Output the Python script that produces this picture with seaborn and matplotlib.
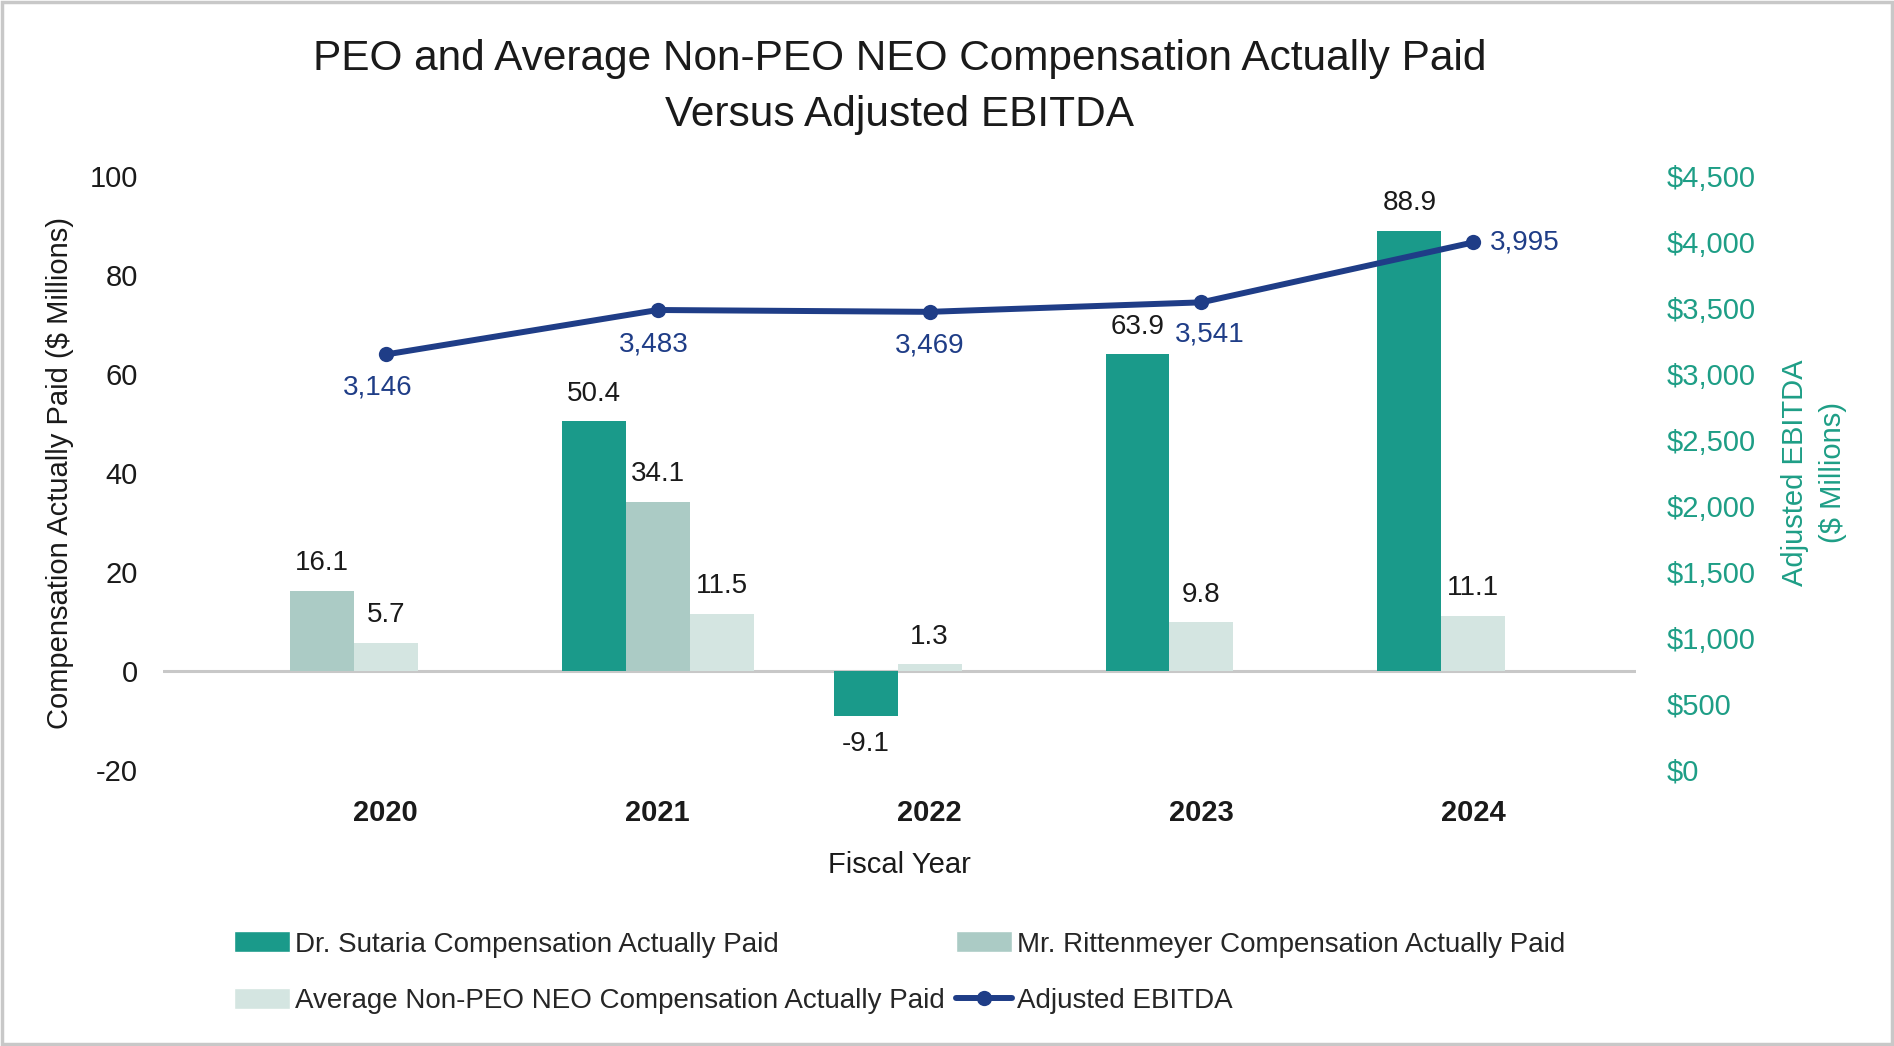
import numpy as np
import pandas as pd
import matplotlib
matplotlib.use("Agg")
import matplotlib.pyplot as plt
import seaborn as sns
from matplotlib.patches import Patch, Rectangle
from matplotlib.lines import Line2D
from matplotlib.ticker import FuncFormatter

# ---- data ----
years = ["2020", "2021", "2022", "2023", "2024"]
sutaria = [np.nan, 50.4, -9.1, 63.9, 88.9]
rittenmeyer = [16.1, 34.1, np.nan, np.nan, np.nan]
avg_neo = [5.7, 11.5, 1.3, 9.8, 11.1]
ebitda = [3146, 3483, 3469, 3541, 3995]

series_names = [
    "Dr. Sutaria Compensation Actually Paid",
    "Mr. Rittenmeyer Compensation Actually Paid",
    "Average Non-PEO NEO Compensation Actually Paid",
]
line_name = "Adjusted EBITDA"

# ---- styling ----
teal = "#1a9a8a"
sage = "#abcbc5"
pale = "#d4e5e1"
navy = "#1f3d87"
axis_teal = "#1e9e86"
colors = dict(zip(series_names, [teal, sage, pale]))
bar_w = 0.235

sns.set_theme(style="white")
plt.rcParams["font.family"] = ["Liberation Sans", "DejaVu Sans"]
plt.rcParams["axes.unicode_minus"] = False

# long table; bars that exist in a year are packed from the left slot
rows = []
for i, yr in enumerate(years):
    vals = [sutaria[i], rittenmeyer[i], avg_neo[i]]
    present = [(n, v) for n, v in zip(series_names, vals) if not np.isnan(v)]
    for k, (n, v) in enumerate(present):
        rows.append({"year": yr, "pos": i + (k - 1) * bar_w, "series": n, "value": v})
bars = pd.DataFrame(rows)

fig = plt.figure(figsize=(18.94, 10.46), dpi=100)
fig.subplots_adjust(left=0.086, right=0.864, top=0.832, bottom=0.264)
ax = fig.add_subplot(111)

sns.barplot(data=bars, x="pos", y="value", hue="series", hue_order=series_names,
            palette=colors, saturation=1, native_scale=True, dodge=False, width=1.0,
            errorbar=None, linewidth=0, legend=False, ax=ax)

# value labels on bars
for _, r in bars.iterrows():
    off = 20 if r["value"] >= 0 else -20
    ax.annotate(f"{r['value']:.1f}", (r["pos"], r["value"]), xytext=(0, off),
                textcoords="offset points", ha="center", va="center",
                fontsize=20, color="#1a1a1a")

ax.set_xlim(-0.82, 4.6)
ax.set_ylim(-20, 100)
ax.set_yticks(range(-20, 101, 20))
ax.set_xticks(range(len(years)))
ax.set_xticklabels(years, fontsize=21, fontweight="bold", color="#1a1a1a")
ax.tick_params(axis="x", length=0, pad=21)
ax.tick_params(axis="y", length=0, pad=18, labelsize=21, labelcolor="#1a1a1a")
ax.axhline(0, color="#c8c8c8", linewidth=2.2, zorder=0.5)
for s in ax.spines.values():
    s.set_visible(False)
ax.set_xlabel("Fiscal Year", fontsize=21, color="#1a1a1a", labelpad=17)
ax.set_ylabel("Compensation Actually Paid ($ Millions)", fontsize=21,
              color="#1a1a1a", labelpad=11)

# EBITDA on the right axis
ax2 = ax.twinx()
sns.lineplot(x=list(range(len(years))), y=ebitda, ax=ax2, color=navy,
             linewidth=4.3, marker="o", markersize=11, markeredgewidth=0)
ax2.set_ylim(0, 4500)
ax2.set_yticks(range(0, 4501, 500))
ax2.yaxis.set_major_formatter(FuncFormatter(lambda v, p: f"${v:,.0f}"))
ax2.tick_params(axis="y", length=0, pad=22, labelsize=21, labelcolor=axis_teal)
for s in ax2.spines.values():
    s.set_visible(False)
ax2.set_ylabel("Adjusted EBITDA\n($ Millions)", fontsize=21, color=axis_teal,
               labelpad=18, linespacing=1.45)

ebitda_label_offsets = [(-6, -24), (-3, -25), (0, -24), (6, -23), (37, 0)]
for i, v in enumerate(ebitda):
    dx, dy = ebitda_label_offsets[i]
    ax2.annotate(f"{v:,}", (i, v), xytext=(dx, dy), textcoords="offset points",
                 ha="center", va="center", fontsize=20, color=navy)

# title
fig.text(0.475, 0.917, "PEO and Average Non-PEO NEO Compensation Actually Paid\nVersus Adjusted EBITDA",
         ha="center", va="center", fontsize=30.5, color="#1a1a1a", linespacing=1.5)

# legend
handles = [
    Patch(facecolor=teal, label=series_names[0]),
    Patch(facecolor=pale, label=series_names[2]),
    Patch(facecolor=sage, label=series_names[1]),
    Line2D([], [], color=navy, linewidth=4.3, marker="o", markersize=11,
           markeredgewidth=0, label=line_name),
]
fig.legend(handles=handles, ncol=2, loc="center", bbox_to_anchor=(0.475, 0.07),
           frameon=False, fontsize=20, handlelength=2.0, handleheight=0.8,
           handletextpad=0.2, columnspacing=0.4, labelspacing=1.1)

# light frame around the whole picture
fig.patches.append(Rectangle((0.001, 0.002), 0.998, 0.996, transform=fig.transFigure,
                             fill=False, edgecolor="#c8c8c8", linewidth=2.5))

fig.savefig("out.png", dpi=100)
